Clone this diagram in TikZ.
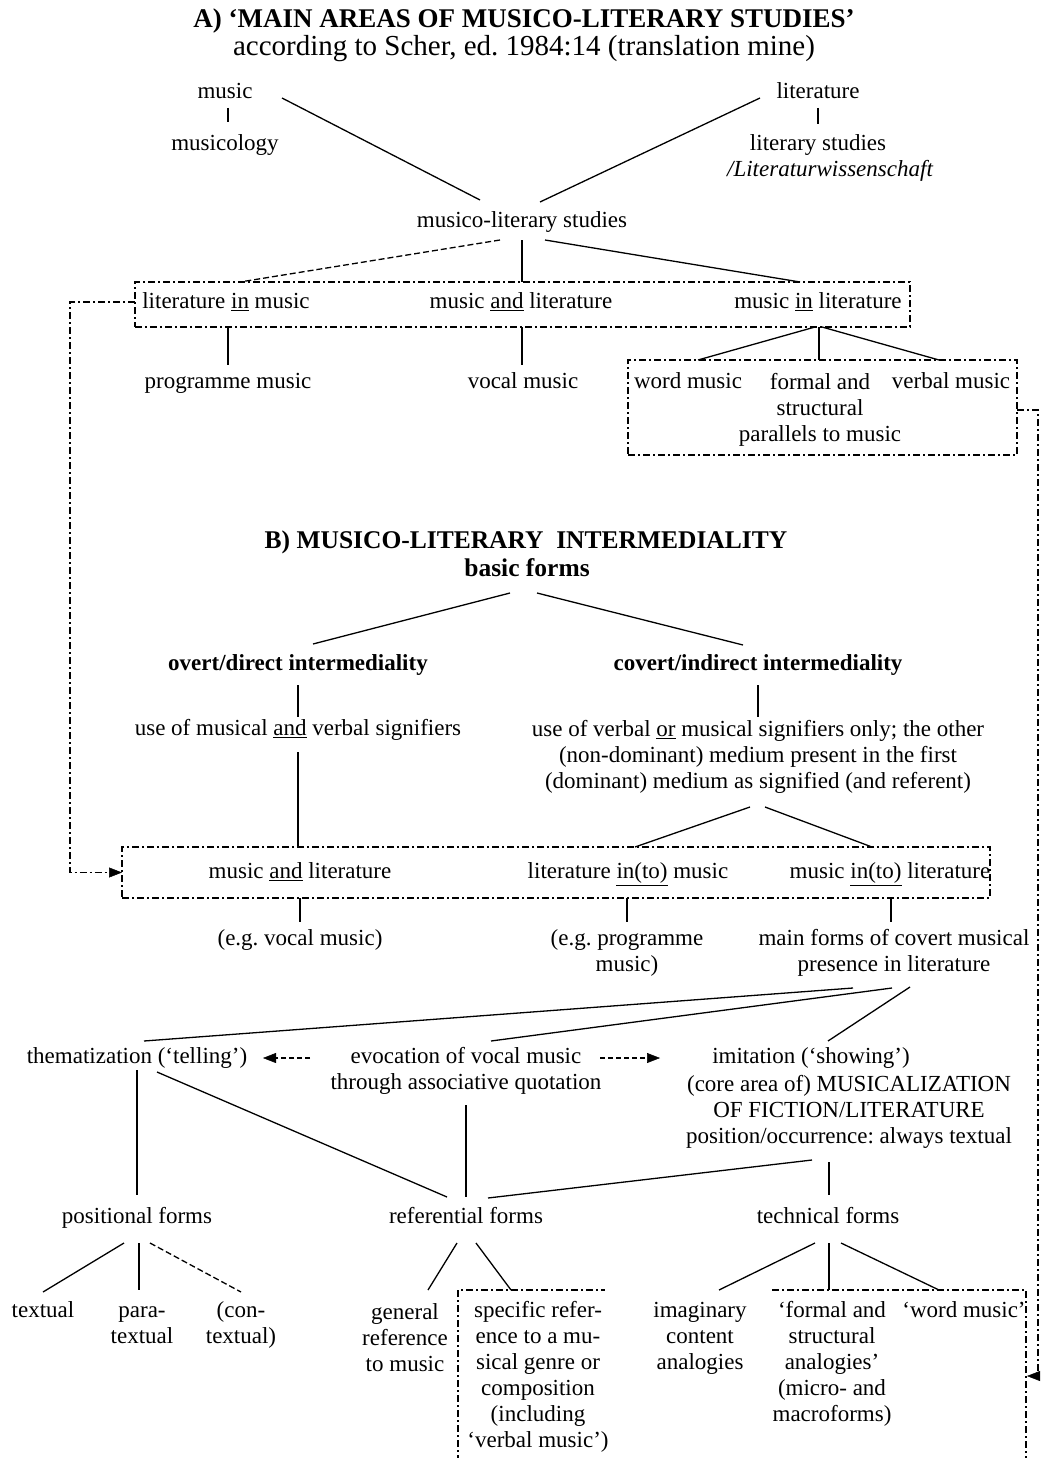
\documentclass[tikz,border=0pt]{standalone}
\usepackage{fontspec}
\setmainfont{Liberation Serif}
\usepackage{graphicx}
\usetikzlibrary{arrows.meta,calc}
\begin{document}
\frenchspacing
\begin{tikzpicture}[x=1pt,y=-1pt,
  txt/.style={inner sep=0pt, outer sep=0pt, align=center, font=\fontsize{23}{26}\selectfont},
  sl/.style={txt, text height=16pt, text depth=5pt},
  bld/.style={sl, font=\fontsize{23}{26}\selectfont\bfseries},
  ln/.style={line width=1.3pt},
  dsh/.style={line width=1.3pt, dash pattern=on 6pt off 3pt},
  dd/.style={line width=1.2pt, dash pattern=on 7pt off 3pt on 2pt off 3pt},
  arr/.style={-{Triangle[length=13pt,width=10pt,line width=0.5pt]}},
  boxd/.style={draw, dd, inner sep=0pt, outer sep=0pt}
]
\fill[white] (0,0) rectangle (1048,1458);
\useasboundingbox (0,0) rectangle (1048,1458);

% ---------- A ----------
\node[txt, font=\fontsize{27}{30}\selectfont\bfseries] (tA) at (524,21) {A) ‘MAIN AREAS OF MUSICO-LITERARY STUDIES’};
\node[txt, font=\fontsize{29}{32}\selectfont] (tAs) at (524,49) {according to Scher, ed. 1984:14 (translation mine)};

\node[sl] (music) at (225,93) {music};
\node[sl] (muscol) at (225,145) {musicology};
\node[sl] (lit) at (818,93) {literature};
\node[sl] (litst) at (818,145) {literary studies};
\node[sl, font=\fontsize{23}{26}\selectfont\itshape] (litw) at (830,171) {/Literaturwissenschaft};
\node[sl] (mls) at (522,222) {musico-literary studies};

\node[boxd, minimum width=775pt, minimum height=45pt] (box1) at (522.5,304.5) {};
\node[sl] (lim) at (226,303) {literature \underline{in} music};
\node[sl] (mal) at (521,303) {music \underline{and} literature};
\node[sl] (mil) at (818,303) {music \underline{in} literature};

\node[sl] (pm) at (228,383) {programme music};
\node[sl] (vm) at (523,383) {vocal music};

\node[boxd, minimum width=389pt, minimum height=95pt] (box2) at (822.5,407.5) {};
\node[sl] (wm) at (688,383) {word music};
\node[txt] (fa) at (820,410) {formal and\\structural\\parallels to music};
\node[sl] (verb) at (951,383) {verbal music};

\draw[ln] ([shift={(3,15)}]music.center) -- ([shift={(3,-23)}]muscol.center);
\draw[ln] ([shift={(57,5)}]music.center) -- ([shift={(-42,-22)}]mls.center);
\draw[ln] ([shift={(0,15)}]lit.center) -- ([shift={(0,-21)}]litst.center);
\draw[ln] ([shift={(-58,5)}]lit.center) -- ([shift={(18,-20)}]mls.center);
\draw[dsh] ([shift={(-22,18)}]mls.center) -- ([shift={(14,-21)}]lim.center);
\draw[ln] ([shift={(0,18)}]mls.center) -- ([shift={(1,-21)}]mal.center);
\draw[ln] ([shift={(23,18)}]mls.center) -- ([shift={(-18,-21)}]mil.center);
\draw[ln] ([shift={(2,24)}]lim.center) -- ([shift={(0,-18)}]pm.center);
\draw[ln] ([shift={(1,24)}]mal.center) -- ([shift={(-1,-18)}]vm.center);
\draw[ln] ([shift={(-3,24)}]mil.center) -- ([shift={(10,-23)}]wm.center);
\draw[ln] ([shift={(1,24)}]mil.center) -- ([shift={(-1,-50)}]fa.center);
\draw[ln] ([shift={(4,24)}]mil.center) -- ([shift={(-12,-23)}]verb.center);

% ---------- B ----------
\node[txt, font=\fontsize{25.5}{28}\selectfont\bfseries] (tB) at (526,542) {B) MUSICO-LITERARY\ \ INTERMEDIALITY};
\node[sl, font=\fontsize{25.5}{28}\selectfont\bfseries] (basic) at (527,571) {basic forms};

\node[bld] (overt) at (298,665) {overt/direct intermediality};
\node[bld] (covert) at (758,665) {covert/indirect intermediality};
\node[sl] (useand) at (298,730) {use of musical \underline{and} verbal signifiers};
\node[txt] (useor) at (758,757) {use of verbal \underline{or} musical signifiers only; the other\\(non-dominant) medium present in the first\\(dominant) medium as signified (and referent)};

\node[boxd, minimum width=868pt, minimum height=51pt] (box3) at (556,872.5) {};
\node[sl] (mal2) at (300,873) {music \underline{and} literature};
\node[sl] (lim2) at (628,873) {literature \underline{in(to)} music};
\node[sl] (mil2) at (890,873) {music \underline{in(to)} literature};

\node[sl] (eg1) at (300,940) {(e.g. vocal music)};
\node[txt] (eg2) at (627,953) {(e.g. programme\\music)};
\node[txt] (mainf) at (894,953) {main forms of covert musical\\presence in literature};

\draw[ln] ([shift={(-17,22)}]basic.center) -- ([shift={(15,-21)}]overt.center);
\draw[ln] ([shift={(10,22)}]basic.center) -- ([shift={(-15,-20)}]covert.center);
\draw[ln] ([shift={(0,20)}]overt.center) -- ([shift={(0,-13)}]useand.center);
\draw[ln] ([shift={(0,20)}]covert.center) -- ([shift={(0,-40)}]useor.center);
\draw[ln] ([shift={(0,22)}]useand.center) -- ([shift={(-2,-26)}]mal2.center);
\draw[ln] ([shift={(-8,50)}]useor.center) -- ([shift={(7,-26)}]lim2.center);
\draw[ln] ([shift={(7,50)}]useor.center) -- ([shift={(-18,-26)}]mil2.center);
\draw[ln] ([shift={(0,25)}]mal2.center) -- ([shift={(0,-18)}]eg1.center);
\draw[ln] ([shift={(-1,25)}]lim2.center) -- ([shift={(0,-31)}]eg2.center);
\draw[ln] ([shift={(1,25)}]mil2.center) -- ([shift={(-3,-31)}]mainf.center);

% outer dash-dot connectors
\coordinate (rtgt) at (1027,1376);
\draw[dd, arr] ([yshift=-2.5pt]box2.east) -- ++(21,0) |- (rtgt);
\draw[dd, arr] ([yshift=2.5pt]box1.west) -- ++(-65,0) |- (box3.west);

% ---------- lower part ----------
\node[sl] (them) at (137,1058) {thematization (‘telling’)};
\node[txt] (evoc) at (466,1071) {evocation of vocal music\\through associative quotation};
\node[sl] (imit) at (811,1058) {imitation (‘showing’)};
\node[txt] (core) at (849,1112) {(core area of) MUSICALIZATION\\OF FICTION/LITERATURE\\position/occurrence: always textual};

\draw[ln] ([shift={(-41,35)}]mainf.center) -- ([shift={(7,-17)}]them.center);
\draw[ln] ([shift={(-2,35)}]mainf.center) -- ([shift={(25,-30)}]evoc.center);
\draw[ln] ([shift={(16,34)}]mainf.center) -- ([shift={(17,-17)}]imit.center);

\draw[dsh, dash pattern=on 5pt off 3pt, arr] ([shift={(-156,-13)}]evoc.center) -- ([shift={(126,0)}]them.center);
\draw[dsh, dash pattern=on 5pt off 3pt, arr] ([shift={(134,-13)}]evoc.center) -- ([shift={(-151,0)}]imit.center);

\node[sl] (posf) at (137,1218) {positional forms};
\node[sl] (reff) at (466,1218) {referential forms};
\node[sl] (techf) at (828,1218) {technical forms};

\draw[ln] ([shift={(0,12)}]them.center) -- ([shift={(0,-23)}]posf.center);
\draw[ln] ([shift={(20,14)}]them.center) -- ([shift={(-19,-21)}]reff.center);
\draw[ln] ([shift={(0,34)}]evoc.center) -- ([shift={(0,-21)}]reff.center);
\draw[ln] ([shift={(-37,48)}]core.center) -- ([shift={(22,-20)}]reff.center);
\draw[ln] ([shift={(-20,50)}]core.center) -- ([shift={(1,-23)}]techf.center);

\node[sl] (textual) at (43,1312) {textual};
\node[txt] (para) at (142,1325) {para-\\textual};
\node[txt] (con) at (241,1325) {(con-\\textual)};
\node[txt] (gen) at (405,1338) {general\\reference\\to music};
\node[txt] (spec) at (538,1377) {specific refer-\\ence to a mu-\\sical genre or\\composition\\(including\\‘verbal music’)};
\node[txt] (imag) at (700,1338) {imaginary\\content\\analogies};
\node[txt] (fsa) at (832,1364) {‘formal and\\structural\\analogies’\\(micro- and\\macroforms)};
\node[sl] (wmu) at (964,1312) {‘word music’};

\draw[ln] ([shift={(-13,25)}]posf.center) -- ([shift={(0,-20)}]textual.center);
\draw[ln] ([shift={(2,25)}]posf.center) -- ([shift={(-3,-35)}]para.center);
\draw[dsh] ([shift={(13,25)}]posf.center) -- ([shift={(0,-33)}]con.center);
\draw[ln] ([shift={(-9,25)}]reff.center) -- ([shift={(23,-48)}]gen.center);
\draw[ln] ([shift={(10,25)}]reff.center) -- ([shift={(-27,-87)}]spec.center);
\draw[ln] ([shift={(-13,25)}]techf.center) -- ([shift={(19,-48)}]imag.center);
\draw[ln] ([shift={(1,25)}]techf.center) -- ([shift={(-3,-74)}]fsa.center);
\draw[ln] ([shift={(13,25)}]techf.center) -- ([shift={(-25,-22)}]wmu.center);

% open dash-dot boxes at the bottom
\draw[dd] (458,1462) -- (458,1290) -- (605,1290);
\draw[dd] (772,1290) -- (1026,1290) -- (1026,1462);
\end{tikzpicture}
\end{document}
